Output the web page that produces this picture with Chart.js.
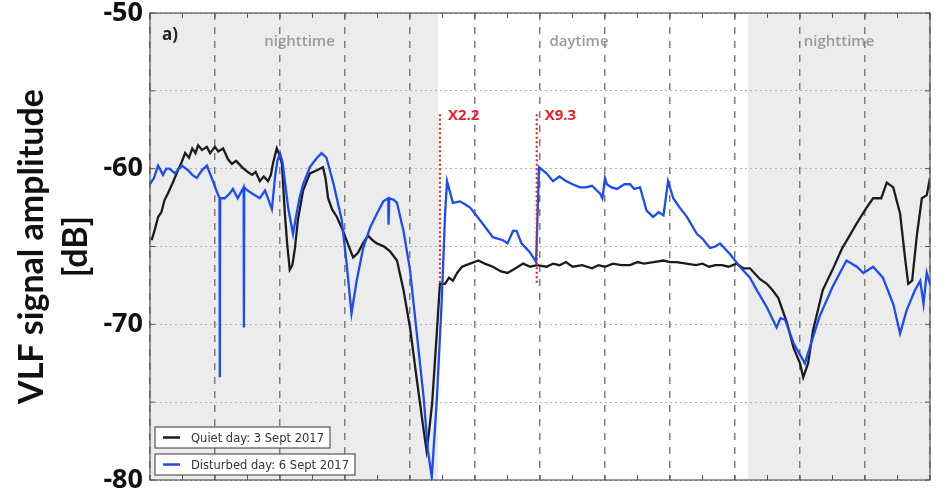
<!DOCTYPE html>
<html>
<head>
<meta charset="utf-8">
<script src="https://cdn.jsdelivr.net/npm/chart.js@4.4.1/dist/chart.umd.min.js"></script>
<style>
  html, body { margin: 0; padding: 0; background: #fff; }
  #wrap { width: 944px; height: 502px; position: relative; }
</style>
</head>
<body>
<div id="wrap"><canvas id="vlfChart"></canvas></div>
<script>
// quiet day, 3 Sept 2017 (hours UT / dB)
const quietHours = [0.05, 0.15, 0.25, 0.35, 0.45, 0.55, 0.7, 0.86, 0.97, 1.08, 1.2, 1.3, 1.4, 1.48, 1.6, 1.75, 1.85, 2.0, 2.1, 2.25,
    2.4, 2.52, 2.65, 2.83, 3.0, 3.14, 3.25, 3.38, 3.5, 3.63, 3.72, 3.78, 3.9, 4.0, 4.06, 4.15, 4.22, 4.3, 4.38, 4.46,
    4.55, 4.71, 4.92, 5.14, 5.32, 5.4, 5.48, 5.6, 5.75, 5.94, 6.1, 6.25, 6.4, 6.55, 6.71, 6.85, 6.98, 7.2, 7.38, 7.6,
    7.8, 8.0, 8.2, 8.42, 8.51, 8.58, 8.68, 8.83, 8.92, 9.08, 9.2, 9.32, 9.45, 9.6, 9.85, 10.1, 10.3, 10.55, 10.8, 11.0,
    11.25, 11.48, 11.7, 11.9, 12.2, 12.4, 12.6, 12.8, 13.0, 13.3, 13.6, 13.8, 14.0, 14.25, 14.5, 14.77, 15.0, 15.2, 15.5, 15.8,
    16.0, 16.2, 16.5, 16.8, 17.0, 17.2, 17.4, 17.6, 17.8, 18.05, 18.25, 18.46, 18.77, 18.98, 19.15, 19.33, 19.6, 19.8, 20.0, 20.1,
    20.25, 20.4, 20.7, 21.0, 21.3, 21.5, 21.75, 22.05, 22.25, 22.5, 22.67, 22.87, 23.08, 23.23, 23.33, 23.45, 23.6, 23.75, 23.9, 24.0];
const quietDb = [-64.6, -63.9, -63.1, -62.8, -62.0, -61.6, -60.9, -60.1, -59.6, -59.0, -59.3, -58.7, -59.0, -58.5, -58.8, -58.6, -59.0, -58.6, -58.9, -58.7,
    -59.4, -59.7, -59.5, -59.9, -60.2, -60.4, -60.2, -60.8, -60.5, -60.8, -60.4, -59.7, -58.7, -59.2, -59.7, -62.9, -64.8, -66.5, -66.2, -65.1,
    -63.3, -61.4, -60.3, -60.1, -59.9, -60.6, -61.9, -62.6, -63.1, -64.0, -64.9, -65.7, -65.4, -64.8, -64.3, -64.6, -64.8, -65.0, -65.3, -65.9,
    -67.8, -70.2, -73.4, -76.8, -78.1, -77.0, -75.1, -70.4, -67.4, -67.4, -67.0, -67.2, -66.7, -66.3, -66.1, -65.9, -66.1, -66.3, -66.6, -66.7,
    -66.4, -66.1, -66.3, -66.2, -66.3, -66.1, -66.2, -66.0, -66.3, -66.2, -66.4, -66.2, -66.3, -66.1, -66.2, -66.2, -66.0, -66.1, -66.0, -65.9,
    -66.0, -66.0, -66.1, -66.2, -66.1, -66.3, -66.2, -66.2, -66.3, -66.1, -66.4, -66.4, -67.1, -67.4, -67.8, -68.3, -69.9, -71.5, -72.5, -73.4,
    -72.5, -70.4, -67.8, -66.5, -65.1, -64.4, -63.5, -62.5, -61.9, -61.9, -60.9, -61.2, -62.9, -65.7, -67.4, -67.2, -64.2, -61.9, -61.7, -60.6];

// disturbed day, 6 Sept 2017
const disturbedHours = [0.0, 0.12, 0.25, 0.4, 0.5, 0.6, 0.77, 0.98, 1.17, 1.3, 1.44, 1.6, 1.75, 1.9, 2.06, 2.14, 2.15, 2.16, 2.3, 2.45,
    2.55, 2.7, 2.88, 2.89, 2.9, 3.0, 3.14, 3.38, 3.54, 3.75, 3.85, 3.92, 4.0, 4.08, 4.15, 4.25, 4.4, 4.5, 4.6, 4.71,
    4.92, 5.14, 5.28, 5.43, 5.65, 5.9, 6.05, 6.2, 6.36, 6.56, 6.77, 6.98, 7.18, 7.33, 7.34, 7.36, 7.5, 7.6, 7.8, 8.0,
    8.2, 8.42, 8.55, 8.67, 8.83, 8.98, 9.08, 9.14, 9.32, 9.54, 9.7, 9.85, 10.15, 10.55, 10.86, 11.0, 11.17, 11.28, 11.43, 11.7,
    11.88, 11.97, 12.2, 12.4, 12.6, 12.8, 13.0, 13.23, 13.4, 13.6, 13.85, 13.92, 14.0, 14.06, 14.2, 14.37, 14.6, 14.77, 14.9, 15.08,
    15.28, 15.48, 15.65, 15.8, 15.94, 16.1, 16.3, 16.52, 16.83, 17.0, 17.23, 17.4, 17.54, 17.85, 18.15, 18.46, 18.67, 18.98, 19.28, 19.4,
    19.54, 19.8, 20.15, 20.3, 20.6, 21.0, 21.43, 21.75, 21.95, 22.25, 22.55, 22.87, 23.08, 23.28, 23.54, 23.7, 23.8, 23.9, 24.0];
const disturbedDb = [-61.0, -60.6, -59.8, -60.4, -60.0, -60.0, -60.3, -59.8, -60.1, -60.4, -60.6, -60.1, -59.8, -60.6, -61.5, -61.9, -73.4, -61.9, -61.9, -61.6,
    -61.3, -61.9, -61.2, -70.2, -61.2, -61.4, -61.6, -61.9, -61.4, -62.6, -60.5, -59.5, -59.0, -59.6, -60.8, -62.5, -64.2, -63.0, -61.9, -61.0,
    -59.9, -59.3, -59.0, -59.3, -61.0, -63.3, -66.1, -69.3, -67.2, -65.1, -63.8, -62.9, -62.1, -61.9, -63.6, -61.9, -62.0, -62.2, -64.0, -66.5,
    -70.4, -74.7, -78.1, -79.8, -74.7, -68.3, -62.9, -60.8, -62.2, -62.1, -62.3, -62.5, -63.3, -64.4, -64.6, -64.8, -64.0, -64.0, -64.8, -65.4,
    -66.0, -59.9, -60.3, -60.8, -60.5, -60.8, -61.0, -61.2, -61.2, -61.1, -61.6, -61.9, -60.6, -61.0, -61.2, -61.3, -61.0, -61.0, -61.3, -61.2,
    -62.7, -63.1, -62.8, -63.0, -60.8, -61.9, -62.5, -63.1, -64.2, -64.5, -65.1, -65.0, -64.8, -65.5, -66.3, -67.0, -67.8, -68.9, -70.2, -69.6,
    -69.7, -71.2, -72.5, -71.5, -69.5, -67.6, -65.9, -66.3, -66.7, -66.3, -67.0, -68.7, -70.6, -69.1, -67.8, -67.2, -68.7, -66.7, -67.4];

// solar flares (hour, top/bottom of the marker in dB)
const flareHours = [8.92, 11.9];
const flareLabels = ['X2.2', 'X9.3'];
const flareTop = [-56.5, -56.5];
const flareBottom = [-67.5, -67.4];

// shaded night intervals and period captions
const nightBands = [[0, 8.86], [18.4, 24]];
const periodLabels = ['nighttime', 'daytime', 'nighttime'];
const periodHours = [4.6, 13.2, 21.2];

const seriesLabels = ['Quiet day: 3 Sept 2017', 'Disturbed day: 6 Sept 2017'];
const seriesColors = ['#1c1c1c', '#1c4cef'];

const toPoints = (xs, ys) => xs.map((h, i) => ({ x: h, y: ys[i] }));

const decor = {
    id: 'decor',
    beforeDraw(chart) {
        const { ctx, chartArea: a, scales: { x } } = chart;
        ctx.save();
        ctx.fillStyle = '#ffffff';
        ctx.fillRect(0, 0, chart.width, chart.height);
        ctx.fillStyle = '#ececec';
        nightBands.forEach(([s, e]) => {
            const x0 = x.getPixelForValue(s), x1 = x.getPixelForValue(e);
            ctx.fillRect(x0, a.top, x1 - x0, a.bottom - a.top);
        });
        ctx.restore();
    },
    beforeDatasetsDraw(chart) {
        const { ctx, chartArea: a, scales: { x } } = chart;
        ctx.save();
        ctx.font = '600 15px "Open Sans"';
        ctx.fillStyle = '#9a9a9a';
        ctx.textAlign = 'center';
        ctx.textBaseline = 'middle';
        periodLabels.forEach((t, i) => ctx.fillText(t, x.getPixelForValue(periodHours[i]), a.top + 29));
        ctx.font = 'bold 17px "Open Sans"';
        ctx.fillStyle = '#222';
        ctx.textAlign = 'left';
        ctx.fillText('a)', a.left + 12, a.top + 22);
        ctx.restore();
    },
    afterDatasetsDraw(chart) {
        const { ctx, chartArea: a, scales: { x, y } } = chart;
        ctx.save();

        // flare markers
        ctx.strokeStyle = '#e8202a';
        ctx.lineWidth = 2.2;
        ctx.setLineDash([2, 2.5]);
        flareHours.forEach((h, i) => {
            const px = x.getPixelForValue(h);
            ctx.beginPath();
            ctx.moveTo(px, y.getPixelForValue(flareTop[i]));
            ctx.lineTo(px, y.getPixelForValue(flareBottom[i]));
            ctx.stroke();
        });
        ctx.setLineDash([]);
        ctx.font = 'bold 15px "Open Sans"';
        ctx.fillStyle = '#e8202a';
        ctx.textAlign = 'left';
        ctx.textBaseline = 'middle';
        flareHours.forEach((h, i) => {
            ctx.fillText(flareLabels[i], x.getPixelForValue(h) + 8, y.getPixelForValue(flareTop[i]) + 2);
        });

        // frame + minor ticks
        ctx.strokeStyle = '#555';
        ctx.lineWidth = 1.2;
        ctx.strokeRect(a.left, a.top, a.right - a.left, a.bottom - a.top);
        ctx.lineWidth = 1;
        ctx.beginPath();
        for (let h = 0; h <= 24; h++) {
            const px = x.getPixelForValue(h);
            ctx.moveTo(px, a.top); ctx.lineTo(px, a.top + 5);
            ctx.moveTo(px, a.bottom); ctx.lineTo(px, a.bottom - 5);
        }
        for (let v = -80; v <= -50; v += 5) {
            const py = y.getPixelForValue(v);
            ctx.moveTo(a.left, py); ctx.lineTo(a.left + 5, py);
            ctx.moveTo(a.right, py); ctx.lineTo(a.right - 5, py);
        }
        ctx.stroke();

        // legend boxes
        const boxW = [175, 200];
        seriesLabels.forEach((t, i) => {
            const bx = a.left + 5, by = a.bottom - 53 + i * 27, bh = 21;
            ctx.fillStyle = '#fff';
            ctx.fillRect(bx, by, boxW[i], bh);
            ctx.strokeStyle = '#555';
            ctx.lineWidth = 1.2;
            ctx.strokeRect(bx, by, boxW[i], bh);
            ctx.strokeStyle = seriesColors[i];
            ctx.lineWidth = 2.5;
            ctx.beginPath();
            ctx.moveTo(bx + 8, by + bh / 2);
            ctx.lineTo(bx + 25, by + bh / 2);
            ctx.stroke();
            ctx.fillStyle = '#333';
            ctx.font = '13px "DejaVu Sans"';
            ctx.textAlign = 'left';
            ctx.textBaseline = 'middle';
            ctx.fillText(t, bx + 36, by + bh / 2 + 1, boxW[i] - 42);
        });
        ctx.restore();
    }
};

Chart.defaults.font.family = '"Open Sans", sans-serif';

new Chart(document.getElementById('vlfChart'), {
    type: 'line',
    data: {
        datasets: [
            {
                label: seriesLabels[0],
                data: toPoints(quietHours, quietDb),
                borderColor: seriesColors[0],
                borderWidth: 2.3,
                pointRadius: 0,
                tension: 0,
                order: 1
            },
            {
                label: seriesLabels[1],
                data: toPoints(disturbedHours, disturbedDb),
                borderColor: seriesColors[1],
                borderWidth: 2.3,
                pointRadius: 0,
                tension: 0,
                order: 0
            }
        ]
    },
    options: {
        responsive: true,
        maintainAspectRatio: false,
        animation: false,
        layout: { padding: { top: 13, right: 14, bottom: 22, left: 0 } },
        plugins: { legend: { display: false }, tooltip: { enabled: false } },
        scales: {
            x: {
                type: 'linear', min: 0, max: 24,
                ticks: { display: false, stepSize: 2 },
                grid: { color: '#7d7d7d', lineWidth: 1.5, drawTicks: false },
                border: { display: false, dash: [7, 7] },
                afterFit: (s) => { s.height = 0; s.paddingLeft = 0; s.paddingRight = 0; }
            },
            y: {
                min: -80, max: -50,
                ticks: {
                    stepSize: 5, padding: 7, color: '#111',
                    font: { size: 27, weight: 'bold' },
                    callback: (v) => (v % 10 === 0 ? v : '')
                },
                grid: { color: '#b0b0b0', lineWidth: 1, drawTicks: false },
                border: { display: false, dash: [2, 3] },
                title: {
                    display: true,
                    text: ['VLF signal amplitude', '[dB]'],
                    color: '#111',
                    font: { family: 'Lato', size: 34, weight: 'bold', lineHeight: 1.3 },
                    padding: { top: 10, bottom: 0 }
                },
                afterFit: (s) => { s.width = 150; s.paddingTop = 0; s.paddingBottom = 0; }
            }
        }
    },
    plugins: [decor]
});
</script>
</body>
</html>
